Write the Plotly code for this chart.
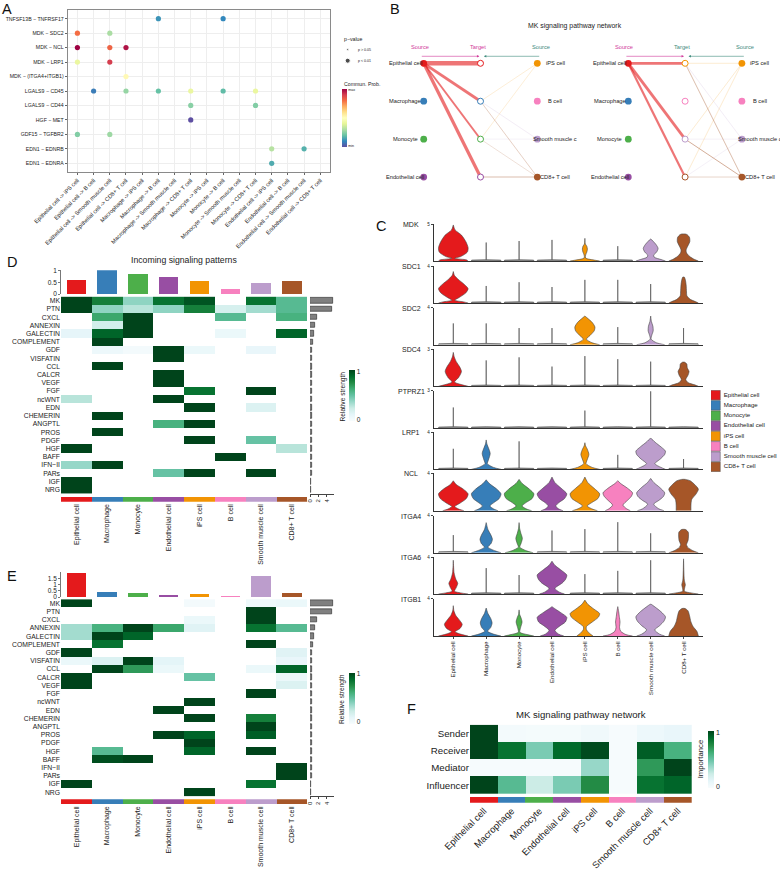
import plotly.graph_objects as go

W, H = 780, 870
FONT = "Liberation Sans"
INK = "#222222"

# cell types and their colours
cells = ["Epithelial cell", "Macrophage", "Monocyte", "Endothelial cell",
         "iPS cell", "B cell", "Smooth muscle cell", "CD8+ T cell"]
cell_colors = ["#E41A1C", "#377EB8", "#4DAF4A", "#984EA3",
               "#F29403", "#F781BF", "#BC9DCC", "#A65628"]
buGn = ["#F7FCFD", "#E5F5F9", "#CCECE6", "#99D8C9", "#66C2A4",
        "#41AE76", "#238B45", "#006D2C", "#00441B"]
spectral = ["#5E4FA2", "#3288BD", "#66C2A5", "#ABDDA4", "#E6F598", "#FFFFBF",
            "#FEE08B", "#FDAE61", "#F46D43", "#D53E4F", "#9E0142"]

# panel A: bubble chart
pairs = ["Epithelial cell -> iPS cell", "Epithelial cell -> B cell",
         "Epithelial cell -> Smooth muscle cell", "Epithelial cell -> CD8+ T cell",
         "Macrophage -> iPS cell", "Macrophage -> B cell",
         "Macrophage -> Smooth muscle cell", "Macrophage -> CD8+ T cell",
         "Monocyte -> iPS cell", "Monocyte -> B cell",
         "Monocyte -> Smooth muscle cell", "Monocyte -> CD8+ T cell",
         "Endothelial cell -> iPS cell", "Endothelial cell -> B cell",
         "Endothelial cell -> Smooth muscle cell", "Endothelial cell -> CD8+ T cell"]
ligands = ["TNFSF13B − TNFRSF17", "MDK − SDC2", "MDK − NCL", "MDK − LRP1",
           "MDK − (ITGA4+ITGB1)", "LGALS9 − CD45", "LGALS9 − CD44", "HGF − MET",
           "GDF15 − TGFBR2", "EDN1 − EDNRB", "EDN1 − EDNRA"]
dot_pair = [5, 9, 0, 2, 0, 2, 3, 0, 2, 3, 1, 3, 5, 7, 9, 11, 7, 11, 7, 0, 2, 12, 14, 12]
dot_ligand = [0, 0, 1, 1, 2, 2, 2, 3, 3, 4, 5, 5, 5, 5, 5, 5, 6, 6, 7, 8, 8, 9, 9, 10]
dot_prob = [.12, .1, .8, .3, 1.0, .82, .97, .42, .9, .52, .08, .27, .2, .42, .19, .42,
            .25, .24, 0, .24, .28, .32, .17, .16]

# panel B: networks, edges as source cell, target row, width, opacity
net1_targets = ["Epithelial cell", "Macrophage", "Monocyte", "Endothelial cell"]
net2_targets = ["iPS cell", "B cell", "Smooth muscle cell", "CD8+ T cell"]
net1_from = ["Epithelial cell"] * 4 + ["iPS cell"] * 2 + ["Smooth muscle cell"] * 2 + ["CD8+ T cell"] * 3
net1_to = [0, 1, 2, 3, 1, 2, 1, 2, 1, 2, 3]
net1_w = [4.5, 2.8, 1.8, 3.2, .5, .5, .5, .4, .6, .5, 1.6]
net1_alpha = [.6, .6, .6, .6, .3, .3, .35, .3, .45, .35, .25]
net2_from = ["Epithelial cell"] * 3 + ["iPS cell"] * 3 + ["Smooth muscle cell"] * 3 + ["CD8+ T cell"] * 3
net2_to = [0, 2, 3, 0, 2, 3, 0, 2, 3, 0, 2, 3]
net2_w = [2.8, 2.8, 2.2, .5, .5, .5, .5, .4, .4, .7, .8, .8]
net2_alpha = [.6, .6, .6, .35, .35, .35, .35, .35, .35, .55, .6, .3]

# panel C: violins; a number is a bare spike of that height,
# a list holds (expression, relative half width) knots
genes = ["MDK", "SDC1", "SDC2", "SDC4", "PTPRZ1", "LRP1", "NCL", "ITGA4", "ITGA6", "ITGB1"]
gene_max = [5, 4, 4, 3, 3, 4, 4, 4, 4, 4]
MDK = [[(0, 1), (.15, .9), (.35, .1), (.6, .5), (1.2, .95), (1.8, 1), (2.6, .85), (3.5, .55), (4.2, .12), (4.87, 0)],
       2.5, 2.7, 2.85,
       [(0, 1), (.1, .7), (.4, .05), (.8, .05), (1.2, .13), (1.6, .17), (2, .13), (2.3, .03), (3.06, 0)],
       2.0,
       [(0, 1), (.2, .7), (.5, .25), (.8, .2), (1.2, .4), (1.7, .5), (2.2, .37), (2.7, .15), (2.95, .02)],
       [(0, 1), (.2, .75), (.6, .42), (1.1, .2), (1.5, .17), (2, .28), (2.6, .42), (3.2, .4), (3.55, .25), (3.65, .12)]]
SDC1 = [[(0, 1), (.12, .7), (.3, .1), (.6, .4), (1.1, .85), (1.55, 1), (2, .75), (2.6, .3), (3, .07), (3.4, 0)],
        1.84, 2.25, 1.73, 2.5, 2.5, 2.05,
        [(0, 1), (.15, .8), (.4, .45), (.8, .22), (1.2, .2), (2, .17), (2.5, .12), (2.8, .05)]]
SDC2 = [2.3, 2.3, 1.8, 1.8,
        [(0, 1), (.2, .5), (.6, .1), (1, .35), (1.5, .63), (1.9, .68), (2.4, .5), (2.9, .15), (3.1, 0)],
        1.9,
        [(0, .95), (.2, .4), (.6, .03), (1, .07), (1.5, .17), (2, .15), (2.5, .05), (3.1, 0)],
        1.8]
SDC4 = [[(0, 1), (.12, .6), (.35, .08), (.7, .35), (1.2, .55), (1.6, .42), (2, .2), (2.4, .06), (2.75, 0)],
        2.1, 2.35, 1.6, 2.45, 2.2, 2.0,
        [(0, 1), (.1, .8), (.3, .3), (.55, .15), (.9, .3), (1.2, .37), (1.5, .25), (1.8, .22), (1.95, .08)]]
PTPRZ1 = [1.65, 0, 0, 0, 1.4, 0, 2.95, 0]
LRP1 = [2.2,
        [(0, 1), (.2, .5), (.6, .08), (1, .15), (1.7, .27), (2.3, .15), (2.7, .05), (3.15, 0)],
        3.0, 0,
        [(0, 1), (.2, .5), (.6, .08), (1, .15), (1.6, .27), (2.2, .15), (2.5, .05), (2.85, 0)],
        1.55,
        [(0, 1), (.2, .7), (.6, .28), (1.1, .65), (1.6, .95), (1.95, 1), (2.4, .7), (2.9, .3), (3.3, .03)],
        1.1]
NCL = [[(0, .72), (.15, .4), (.45, .1), (.8, .45), (1.3, .88), (1.8, 1), (2.3, .68), (2.8, .2), (3.2, 0)],
       [(0, .8), (.15, .55), (.5, .25), (.9, .55), (1.3, .88), (1.8, 1), (2.3, .72), (2.9, .22), (3.3, 0)],
       [(0, .85), (.15, .55), (.5, .2), (.9, .5), (1.3, .88), (1.8, 1), (2.3, .7), (2.9, .22), (3.35, 0)],
       [(0, .75), (.15, .5), (.5, .25), (.9, .5), (1.3, .85), (1.8, 1), (2.4, .62), (3, .2), (3.6, 0)],
       [(0, .85), (.15, .55), (.5, .15), (.9, .5), (1.3, .88), (1.8, 1), (2.4, .62), (3, .2), (3.6, 0)],
       [(0, .85), (.2, .6), (.6, .35), (1.1, .65), (1.5, .9), (1.9, 1), (2.4, .66), (2.9, .2), (3.2, 0)],
       [(0, .9), (.2, .55), (.7, .2), (1.1, .55), (1.5, .85), (1.9, .95), (2.5, .6), (3, .22), (3.45, 0)],
       [(0, .5), (.6, .5), (1.2, .55), (1.8, .85), (2.3, 1), (2.8, .75), (3.2, .45), (3.35, .12)]]
ITGA4 = [1.9,
         [(0, 1), (.2, .6), (.6, .12), (1, .33), (1.45, .42), (1.9, .32), (2.5, .12), (3.25, 0)],
         [(0, .95), (.2, .5), (.6, .05), (1, .13), (1.55, .22), (2.1, .12), (2.6, .04), (3.25, 0)],
         2.4, 2.55, 3.3, 2.1,
         [(0, 1), (.2, .65), (.6, .27), (.9, .2), (1.3, .3), (1.7, .33), (2.2, .32), (2.5, .14)]]
ITGA6 = [[(0, 1), (.12, .5), (.3, .08), (.7, .2), (1.15, .3), (1.6, .17), (2.3, .05), (3.65, 0)],
         2.8, 2.05,
         [(0, .85), (.2, .5), (.6, .2), (1.2, .7), (1.6, .92), (2.05, 1), (2.6, .6), (3.1, .2), (3.55, 0)],
         2.15, 2.5, 3.65,
         [(0, 1), (.12, .5), (.3, .06), (.7, .08), (1, .12), (1.5, .05), (2.5, .02), (3.8, 0)]]
ITGB1 = [[(0, 1), (.15, .6), (.45, .12), (.8, .45), (1.25, .6), (1.7, .42), (2.2, .17), (2.7, .04), (3.25, 0)],
         [(0, 1), (.15, .6), (.5, .1), (.9, .3), (1.4, .4), (1.9, .3), (2.4, .12), (3, 0)],
         [(0, 1), (.15, .55), (.4, .05), (.9, .1), (1.5, .2), (2, .12), (2.3, .04), (2.8, 0)],
         [(0, .8), (.2, .45), (.6, .2), (1.1, .55), (1.5, .9), (2, 1), (2.5, .6), (2.9, .22), (3.15, 0)],
         [(0, .55), (.3, .3), (.7, .1), (1, .1), (1.5, .5), (2, .9), (2.4, 1), (2.9, .6), (3.4, .2), (3.85, 0)],
         [(0, 1), (.15, .55), (.5, .2), (.9, .12), (1.5, .15), (2.1, .1), (2.6, .06), (3.15, 0)],
         [(0, .95), (.2, .6), (.65, .27), (1.1, .6), (1.6, .9), (2.05, 1), (2.6, .7), (3.1, .3), (3.4, .03)],
         [(0, 1), (.5, .9), (1, .65), (1.5, .5), (2.2, .4), (2.7, .3), (2.95, .1)]]
violin_rows = [MDK, SDC1, SDC2, SDC4, PTPRZ1, LRP1, NCL, ITGA4, ITGA6, ITGB1]

# panels D and E: signaling heatmaps
pathways = ["MK", "PTN", "CXCL", "ANNEXIN", "GALECTIN", "COMPLEMENT", "GDF", "VISFATIN",
            "CCL", "CALCR", "VEGF", "FGF", "ncWNT", "EDN", "CHEMERIN", "ANGPTL", "PROS",
            "PDGF", "HGF", "BAFF", "IFN−II", "PARs", "IGF", "NRG"]
N = None
incoming = [[1, .8, .4, .85, .95, N, .85, .55],
            [1, .4, .3, .4, .8, .2, .35, .55],
            [N, .65, 1, N, N, .55, N, .6],
            [N, .22, 1, N, N, N, N, N],
            [.12, .9, 1, N, N, .08, N, .9],
            [N, 1, N, N, N, N, N, N],
            [N, .07, .03, 1, .08, N, .1, N],
            [N, N, N, 1, N, N, N, N],
            [N, 1, N, N, N, N, N, N],
            [N, N, N, 1, N, N, N, N],
            [N, N, N, 1, N, N, N, N],
            [N, N, N, N, .85, N, 1, N],
            [.3, N, N, 1, N, N, N, N],
            [N, N, N, N, 1, N, .17, N],
            [N, 1, N, N, N, N, N, N],
            [N, N, N, .6, 1, N, N, N],
            [N, 1, N, N, N, N, N, N],
            [N, N, N, N, 1, N, .5, N],
            [1, N, N, N, N, N, N, .3],
            [N, N, N, N, N, 1, N, N],
            [.38, 1, N, N, N, N, N, N],
            [N, N, N, .5, 1, N, 1, N],
            [1, N, N, N, N, N, N, N],
            [1, N, N, N, N, N, N, N]]
incoming_top = [.6, 1.02, .85, .72, .57, .2, .45, .55]
outgoing = [[1, N, N, N, .03, N, .06, .08],
            [N, N, N, N, N, N, 1, N],
            [N, N, N, N, .08, N, 1, N],
            [.35, .6, 1, .65, .15, N, .85, .55],
            [.35, 1, .9, N, N, N, N, N],
            [N, .85, N, N, N, N, 1, N],
            [1, N, N, N, N, N, N, .15],
            [.08, .17, 1, .13, N, N, N, .1],
            [N, 1, .7, .08, N, N, .08, .9],
            [1, N, N, N, .5, N, N, .08],
            [1, N, N, N, N, N, N, .17],
            [N, N, N, N, N, N, 1, N],
            [N, N, N, N, 1, N, N, N],
            [N, N, N, 1, N, N, N, N],
            [N, N, N, N, 1, N, .8, N],
            [N, N, N, N, N, N, 1, N],
            [N, N, N, 1, .9, N, .92, N],
            [N, N, N, N, 1, N, N, N],
            [N, .55, N, N, .9, N, 1, N],
            [N, .97, 1, N, N, N, N, N],
            [N, N, N, N, N, N, N, 1],
            [N, N, N, N, N, N, N, 1],
            [1, N, N, N, N, N, .85, N],
            [N, N, N, N, 1, N, N, N]]
outgoing_top = [1.9, .37, .3, .13, .27, .07, 1.7, .35]
pathway_totals = [5.6, 5.2, 1.6, 1.1, .9, .6, .55, .5, .48, .46, .45, .45, .44, .44,
                  .43, .42, .42, .4, .4, .38, .38, .36, .35, .32]

# panel F: roles
roles = ["Sender", "Receiver", "Mediator", "Influencer"]
role_values = [[1, .03, .02, .02, .05, .01, .07, .1],
               [1, .85, .45, .88, .98, .01, .92, .6],
               [.01, .01, .01, .01, .38, .01, .7, 1],
               [1, .55, .25, .45, .75, .01, .85, .9]]

fig = go.Figure()
layout_axes = {}
axis_count = 0


def add_axes(left, right, top, bottom, xopts, yopts):
    # make an axis pair from a pixel rectangle
    global axis_count
    axis_count += 1
    name = "" if axis_count == 1 else str(axis_count)
    xo = dict(domain=[left / W, right / W], anchor="y" + name, showgrid=False,
              zeroline=False, showticklabels=False, ticks="", showline=False)
    yo = dict(domain=[1 - bottom / H, 1 - top / H], anchor="x" + name, showgrid=False,
              zeroline=False, showticklabels=False, ticks="", showline=False)
    xo.update(xopts)
    yo.update(yopts)
    layout_axes["xaxis" + name] = xo
    layout_axes["yaxis" + name] = yo
    return "x" + name, "y" + name


annotations = []


def note(x, y, text, size, color=INK, anchor="center", angle=0, **kw):
    # text placed by figure pixels
    annotations.append(dict(xref="paper", yref="paper", x=x / W, y=1 - y / H, text=text,
                            showarrow=False, xanchor=anchor, yanchor="middle", textangle=angle,
                            font=dict(size=size, color=color, family=FONT), **kw))


def tfont(size):
    return dict(size=size, color=INK, family=FONT)


for letter, lx, ly in [("A", 7, 9), ("B", 395, 9), ("C", 381, 226),
                       ("D", 12, 262), ("E", 12, 576), ("F", 411, 709)]:
    note(lx, ly, letter, 14.5, color="#111111")

# panel A
xa, ya = add_axes(67.7, 330, 10, 172,
                  dict(type="category", categoryorder="array", categoryarray=pairs, range=[-.6, 15.6],
                       showgrid=True, gridcolor="#EEEEEE", gridwidth=.5, showline=True, mirror=True,
                       linecolor="#8A8A8A", linewidth=1, ticks="outside", ticklen=2, tickwidth=.5,
                       tickcolor="#666666", showticklabels=True, tickangle=-45, tickfont=tfont(5.7),
                       tickvals=pairs, ticktext=pairs),
                  dict(type="category", categoryorder="array", categoryarray=ligands,
                       range=[10.6, -.6], showgrid=True, gridcolor="#EEEEEE", gridwidth=.5, showline=True,
                       mirror=True, linecolor="#8A8A8A", linewidth=1, ticks="outside", ticklen=2,
                       tickwidth=.5, tickcolor="#666666", showticklabels=True, tickfont=tfont(5.2)))
fig.add_trace(go.Scatter(
    x=[pairs[i] for i in dot_pair], y=[ligands[i] for i in dot_ligand], xaxis=xa, yaxis=ya,
    mode="markers", showlegend=False,
    marker=dict(size=5.2, color=dot_prob, colorscale=[[i / 10, c] for i, c in enumerate(spectral)],
                cmin=0, cmax=1, line=dict(width=0),
                colorbar=dict(x=341.7 / W, xanchor="left", y=1 - 89 / H, yanchor="top", thickness=4.6,
                              thicknessmode="pixels", len=57.7, lenmode="pixels", xpad=0, ypad=0,
                              outlinewidth=0, ticks="", tickvals=[0.02, .98], ticktext=["min", "max"],
                              tickfont=tfont(3.6)))))
note(341.7, 38.7, "p−value", 5.2, anchor="left")
note(341.7, 84, "Commun. Prob.", 5.2, anchor="left")
note(356, 49.5, "p > 0.05", 3.6, anchor="left")
note(356, 60.7, "p < 0.01", 3.6, anchor="left")
xl, yl = add_axes(340, 355, 44, 66, dict(range=[0, 15]), dict(range=[22, 0]))
fig.add_trace(go.Scatter(x=[7.7, 7.7], y=[5.4, 16.7], mode="markers", xaxis=xl, yaxis=yl, showlegend=False,
                         marker=dict(size=[2, 5], color="#000000")))

# panel B
note(574.7, 26, "MK signaling pathway network", 6.9)
PINK, TEAL = "#D0399A", "#3E8B7C"
net_specs = [(423.7, net1_targets, net1_from, net1_to, net1_w, net1_alpha, PINK),
             (628.3, net2_targets, net2_from, net2_to, net2_w, net2_alpha, TEAL)]
left_nodes = net1_targets
right_nodes = net2_targets
for x0, targets, e_from, e_to, e_w, e_alpha, target_color in net_specs:
    step = 56.8
    pad_l, pad_r = x0 - 28, x0 + 147
    xn, yn = add_axes(pad_l, pad_r, 44.35, 196,
                      dict(range=[(pad_l - x0) / step, (pad_r - x0) / step]),
                      dict(range=[3.5, -.5]))
    for src, to, wd, alpha in zip(e_from, e_to, e_w, e_alpha):
        col = 0 if src in left_nodes else 2
        row = (left_nodes if col == 0 else right_nodes).index(src)
        fig.add_trace(go.Scatter(x=[col, 1], y=[row, to], mode="lines", xaxis=xn, yaxis=yn, showlegend=False,
                                 opacity=alpha, line=dict(color=cell_colors[cells.index(src)], width=wd)))
    fig.add_trace(go.Scatter(x=[0] * 4, y=[0, 1, 2, 3], mode="markers", xaxis=xn, yaxis=yn, showlegend=False,
                             marker=dict(size=6.8, color=[cell_colors[cells.index(c)] for c in left_nodes])))
    fig.add_trace(go.Scatter(x=[2] * 4, y=[0, 1, 2, 3], mode="markers", xaxis=xn, yaxis=yn, showlegend=False,
                             marker=dict(size=6.8, color=[cell_colors[cells.index(c)] for c in right_nodes])))
    fig.add_trace(go.Scatter(x=[1] * 4, y=[0, 1, 2, 3], mode="markers", xaxis=xn, yaxis=yn, showlegend=False,
                             marker=dict(size=6, color="#FFFFFF",
                                         line=dict(width=1, color=[cell_colors[cells.index(c)] for c in targets]))))
    for r, name in enumerate(left_nodes):
        annotations.append(dict(xref=xn, yref=yn, x=0, y=r, xshift=-18.5, text=name, showarrow=False,
                                font=tfont(5.7)))
    right_labels = ["iPS cell", "B cell", "Smooth muscle c", "CD8+ T cell"]
    for r, name in enumerate(right_labels):
        annotations.append(dict(xref=xn, yref=yn, x=2, y=r, xshift=18, text=name, showarrow=False,
                                font=tfont(5.7)))
    for cx, label, color in [(-.07, "Source", PINK), (.95, "Target", target_color), (2.06, "Source", TEAL)]:
        annotations.append(dict(xref=xn, yref=yn, x=cx, y=-.43, text=label, showarrow=False,
                                font=dict(size=5.7, color=color, family=FONT)))
    annotations.append(dict(xref=xn, yref=yn, axref=xn, ayref=yn, x=.98, y=-.185, ax=-.06, ay=-.185, text="",
                            showarrow=True, arrowhead=2, arrowsize=.8, arrowwidth=.6, arrowcolor=PINK))
    annotations.append(dict(xref=xn, yref=yn, axref=xn, ayref=yn, x=1.06, y=-.185, ax=2.06, ay=-.185, text="",
                            showarrow=True, arrowhead=2, arrowsize=.8, arrowwidth=.6, arrowcolor=TEAL))

# panel C
row_tops = [224, 266, 307.7, 349.3, 390.7, 432, 473.3, 515.7, 557, 598.7]
row_bottoms = [261, 303, 344.7, 386.3, 428, 469.3, 510.7, 552.7, 594, 636]
HALF = .45
for g, gene in enumerate(genes):
    top_val = gene_max[g]
    xv, yv = add_axes(433.7, 703.3, row_tops[g], row_bottoms[g],
                      dict(range=[-.596, 7.6], showline=True, linecolor="#333333", linewidth=1,
                           tickmode="array", tickvals=list(range(8)), ticktext=cells,
                           showticklabels=g == len(genes) - 1, tickangle=-90, tickfont=tfont(6.2),
                           ticks="outside" if g == len(genes) - 1 else "", ticklen=2, tickwidth=.5),
                      dict(range=[0, top_val], showline=True, linecolor="#333333", linewidth=.8,
                           tickmode="array", tickvals=[top_val], showticklabels=True, ticks="outside",
                           ticklen=2, tickwidth=.6, tickfont=tfont(4.6)))
    note(411, row_tops[g] + .6, gene, 7)
    for i, shape in enumerate(violin_rows[g]):
        if isinstance(shape, list):
            knots = shape
            fill_color = cell_colors[i]
            smooth = "spline"
        else:
            flat = .025 * top_val
            knots = [(0, 1), (flat, .98), (flat * 1.4, 0), (max(shape, flat * 1.4), 0)]
            fill_color = "#8C8C8C"
            smooth = "linear"
        px = [i + w * HALF for _, w in knots] + [i - w * HALF for _, w in reversed(knots)]
        py = [v for v, _ in knots] + [v for v, _ in reversed(knots)]
        fig.add_trace(go.Scatter(x=px, y=py, mode="lines", fill="toself", fillcolor=fill_color,
                                 line=dict(color="#444444", width=.6, shape=smooth, smoothing=.7),
                                 xaxis=xv, yaxis=yv, showlegend=False))
# violin legend
xk, yk = add_axes(711, 775, 390, 472, dict(range=[0, 1]),
                  dict(type="category", categoryorder="array", categoryarray=cells, range=[7.5, -.5]))
fig.add_trace(go.Scatter(x=[.07] * 8, y=cells, mode="markers", xaxis=xk, yaxis=yk, showlegend=False,
                         marker=dict(symbol="square", size=9.6, color=cell_colors,
                                     line=dict(width=.5, color="#555555"))))
fig.add_trace(go.Scatter(x=[.2] * 8, y=cells, text=cells, mode="text", textposition="middle right",
                         textfont=tfont(6.1), xaxis=xk, yaxis=yk, showlegend=False, cliponaxis=False))


def signaling_panel(z, top_vals, hm_top, hm_bottom, bar_base, bar_top, top_max, top_ticks,
                    strip_top, strip_bottom, cb_top):
    # one heatmap with its top and side bars, colour strip and colour bar
    xh, yh = add_axes(61, 307.3, hm_top, hm_bottom,
                      dict(type="category", categoryorder="array", categoryarray=cells, range=[-.5, 7.5]),
                      dict(type="category", categoryorder="array", categoryarray=pathways, range=[23.5, -.5],
                           showticklabels=True, tickfont=tfont(6.8), tickvals=pathways, ticktext=pathways))
    fig.add_trace(go.Heatmap(x=cells, y=pathways, z=z, zmin=0, zmax=1, xaxis=xh, yaxis=yh, hoverongaps=False,
                             colorscale=[[i / 8, c] for i, c in enumerate(buGn)],
                             colorbar=dict(x=349 / W, xanchor="left", y=1 - cb_top / H, yanchor="top",
                                           thickness=6, thicknessmode="pixels", len=51, lenmode="pixels",
                                           xpad=0, ypad=0, outlinewidth=0, ticks="", tickvals=[.03, .97],
                                           ticktext=["0", "1"], tickfont=tfont(6.5))))
    note(342, cb_top + 26.5, "Relative strength", 6.6, angle=-90)
    xt, yt = add_axes(61, 307.3, bar_top, bar_base,
                      dict(type="category", categoryorder="array", categoryarray=cells, range=[-.5, 7.5]),
                      dict(range=[0, top_max], showline=True, linecolor="#777777", linewidth=.8,
                           tickmode="array", tickvals=top_ticks, showticklabels=True, ticks="outside",
                           ticklen=2, tickwidth=.6, tickcolor="#777777", tickfont=tfont(6.5)))
    fig.add_trace(go.Bar(x=cells, y=top_vals, width=.63, xaxis=xt, yaxis=yt, showlegend=False,
                         marker=dict(color=cell_colors, line=dict(width=0))))
    xs, ys = add_axes(61, 307.3, strip_top, strip_bottom,
                      dict(type="category", categoryorder="array", categoryarray=cells, range=[-.5, 7.5],
                           showticklabels=True, tickangle=-90, tickfont=tfont(7), tickvals=cells, ticktext=cells),
                      dict(range=[0, 1]))
    fig.add_trace(go.Bar(x=cells, y=[1] * 8, width=1, xaxis=xs, yaxis=ys, showlegend=False,
                         marker=dict(color=cell_colors, line=dict(width=0))))
    xr, yr = add_axes(310, 334, hm_top, hm_bottom,
                      dict(range=[0, 5.76], showline=True, linecolor="#444444", linewidth=.8, tickmode="array",
                           tickvals=[0, 2, 4], showticklabels=True, ticks="outside", ticklen=2, tickwidth=.6,
                           tickangle=-90, tickfont=tfont(6)),
                      dict(type="category", categoryorder="array", categoryarray=pathways, range=[23.5, -.5]))
    fig.add_trace(go.Bar(x=pathway_totals, y=pathways, orientation="h", width=.65, xaxis=xr, yaxis=yr,
                         showlegend=False, marker=dict(color="#808080", line=dict(width=.7, color="#333333"))))


note(184, 260, "Incoming signaling patterns", 8.7)
signaling_panel(incoming, incoming_top, 296.6, 493.8, 294, 270.2, 1.02, [0, .5, 1], 496.7, 501.7, 370)
signaling_panel(outgoing, outgoing_top, 599.2, 796.4, 597, 572, 2, [0, .5, 1, 1.5], 799.3, 804, 672.5)

# panel F
xf, yf = add_axes(470, 691.7, 724.7, 794,
                  dict(type="category", categoryorder="array", categoryarray=cells, range=[-.5, 7.5]),
                  dict(type="category", categoryorder="array", categoryarray=roles, range=[3.5, -.5],
                       showticklabels=True, tickfont=tfont(9.7), tickvals=roles, ticktext=roles))
fig.add_trace(go.Heatmap(x=cells, y=roles, z=role_values, zmin=0, zmax=1, xaxis=xf, yaxis=yf,
                         colorscale=[[i / 8, c] for i, c in enumerate(buGn)],
                         colorbar=dict(x=708.3 / W, xanchor="left", y=1 - 731 / H, yanchor="top",
                                       thickness=6, thicknessmode="pixels", len=56.7, lenmode="pixels",
                                       xpad=0, ypad=0, outlinewidth=0, ticks="", tickvals=[.03, .97],
                                       ticktext=["0", "1"], tickfont=tfont(7))))
xs, ys = add_axes(470, 691.7, 797, 802.7,
                  dict(type="category", categoryorder="array", categoryarray=cells, range=[-.5, 7.5],
                       showticklabels=True, tickangle=-45, tickfont=tfont(9.4), tickvals=cells, ticktext=cells),
                  dict(range=[0, 1]))
fig.add_trace(go.Bar(x=cells, y=[1] * 8, width=1, xaxis=xs, yaxis=ys, showlegend=False,
                     marker=dict(color=cell_colors, line=dict(width=0))))
note(581, 714, "MK signaling pathway network", 9.6)
note(700, 759.3, "Importance", 7.7, angle=-90)

fig.update_layout(width=W, height=H, autosize=False, paper_bgcolor="#FFFFFF", plot_bgcolor="rgba(0,0,0,0)",
                  margin=dict(l=0, r=0, t=0, b=0, autoexpand=False), showlegend=False,
                  font=dict(family=FONT, color=INK), annotations=annotations, bargap=0, **layout_axes)

fig.write_html("out.html", config={"displayModeBar": False},
               post_script="document.body.style.margin='0';")
